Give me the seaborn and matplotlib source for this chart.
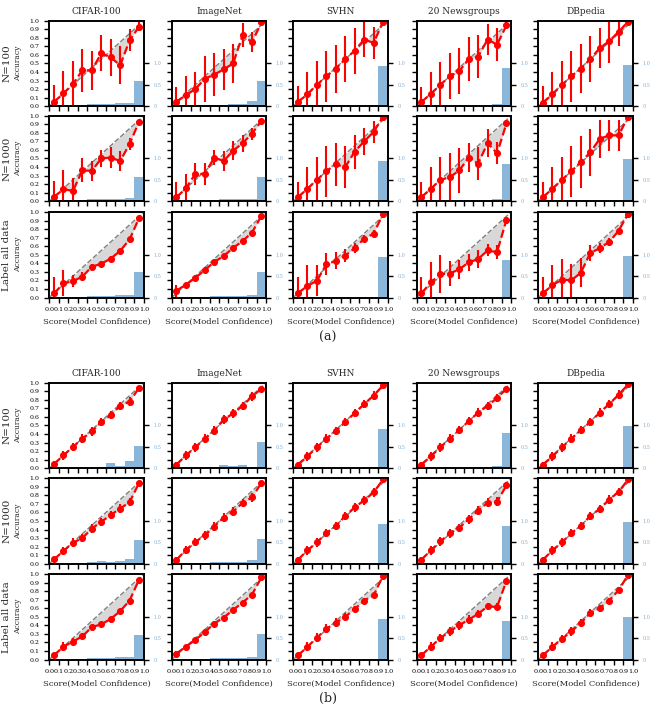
import matplotlib
matplotlib.use("Agg")
import matplotlib.pyplot as plt
import numpy as np
import seaborn as sns

datasets = ["CIFAR-100", "ImageNet", "SVHN", "20 Newsgroups", "DBpedia"]
row_labels = ["N=100", "N=1000", "Label all data"]
centers = [0.05, 0.15, 0.25, 0.35, 0.45, 0.55, 0.65, 0.75, 0.85, 0.95]
tick_labels = ["0.0", "0.1", "0.2", "0.3", "0.4", "0.5", "0.6", "0.7", "0.8", "0.9", "1.0"]

# ---- panel (a) ----
acc_a1 = [
    [0.05, 0.15, 0.26, 0.42, 0.42, 0.62, 0.57, 0.48, 0.77, 0.93],
    [0.05, 0.13, 0.20, 0.32, 0.37, 0.43, 0.50, 0.83, 0.75, 0.98],
    [0.05, 0.14, 0.25, 0.35, 0.44, 0.55, 0.65, 0.78, 0.74, 0.99],
    [0.05, 0.145, 0.25, 0.35, 0.41, 0.55, 0.58, 0.78, 0.72, 0.945],
    [0.04, 0.14, 0.25, 0.35, 0.44, 0.55, 0.68, 0.76, 0.87, 0.99],
]
err_a1 = [
    [0.20, 0.26, 0.27, 0.25, 0.23, 0.21, 0.22, 0.22, 0.13, 0.05],
    [0.18, 0.22, 0.20, 0.27, 0.25, 0.24, 0.23, 0.14, 0.12, 0.02],
    [0.19, 0.26, 0.28, 0.30, 0.28, 0.27, 0.27, 0.20, 0.19, 0.02],
    [0.18, 0.25, 0.27, 0.27, 0.27, 0.26, 0.25, 0.18, 0.19, 0.04],
    [0.20, 0.26, 0.28, 0.30, 0.29, 0.27, 0.23, 0.25, 0.17, 0.02],
]
hist_a1 = [
    [0.0, 0.005, 0.01, 0.02, 0.05, 0.05, 0.06, 0.07, 0.08, 0.60],
    [0.0, 0.0, 0.01, 0.02, 0.03, 0.03, 0.04, 0.04, 0.12, 0.60],
    [0.0, 0.0, 0.0, 0.0, 0.0, 0.0, 0.0, 0.0, 0.02, 0.95],
    [0.0, 0.0, 0.0, 0.0, 0.0, 0.0, 0.0, 0.0, 0.04, 0.90],
    [0.0, 0.0, 0.0, 0.0, 0.0, 0.0, 0.0, 0.0, 0.0, 0.96],
]
acc_a2 = [
    [0.05, 0.14, 0.12, 0.36, 0.355, 0.50, 0.51, 0.47, 0.67, 0.93],
    [0.045, 0.15, 0.32, 0.32, 0.51, 0.47, 0.59, 0.68, 0.79, 0.94],
    [0.047, 0.146, 0.25, 0.35, 0.43, 0.40, 0.58, 0.70, 0.81, 0.99],
    [0.047, 0.146, 0.25, 0.28, 0.36, 0.51, 0.44, 0.68, 0.56, 0.91],
    [0.047, 0.146, 0.25, 0.35, 0.46, 0.57, 0.73, 0.77, 0.77, 0.99],
]
err_a2 = [
    [0.19, 0.23, 0.15, 0.14, 0.12, 0.10, 0.12, 0.12, 0.07, 0.02],
    [0.18, 0.17, 0.13, 0.13, 0.09, 0.12, 0.11, 0.10, 0.07, 0.02],
    [0.18, 0.25, 0.27, 0.30, 0.25, 0.24, 0.20, 0.16, 0.13, 0.02],
    [0.18, 0.25, 0.27, 0.28, 0.26, 0.17, 0.19, 0.16, 0.13, 0.03],
    [0.18, 0.25, 0.27, 0.30, 0.30, 0.28, 0.22, 0.18, 0.18, 0.02],
]
hist_a2 = [
    [0.0, 0.0, 0.01, 0.02, 0.04, 0.05, 0.05, 0.06, 0.07, 0.57],
    [0.0, 0.0, 0.01, 0.02, 0.03, 0.04, 0.04, 0.05, 0.06, 0.56],
    [0.0, 0.0, 0.0, 0.0, 0.0, 0.0, 0.0, 0.0, 0.0, 0.94],
    [0.0, 0.0, 0.0, 0.0, 0.0, 0.01, 0.02, 0.02, 0.04, 0.87],
    [0.0, 0.0, 0.0, 0.0, 0.0, 0.0, 0.0, 0.0, 0.0, 0.98],
]
acc_a3 = [
    [0.047, 0.166, 0.19, 0.245, 0.36, 0.395, 0.455, 0.545, 0.68, 0.93],
    [0.08, 0.15, 0.23, 0.32, 0.415, 0.485, 0.58, 0.66, 0.76, 0.955],
    [0.05, 0.137, 0.196, 0.39, 0.43, 0.49, 0.577, 0.69, 0.745, 0.98],
    [0.05, 0.176, 0.275, 0.28, 0.33, 0.41, 0.45, 0.55, 0.53, 0.91],
    [0.05, 0.145, 0.21, 0.20, 0.29, 0.52, 0.577, 0.65, 0.78, 0.98],
]
err_a3 = [
    [0.19, 0.15, 0.07, 0.05, 0.03, 0.03, 0.03, 0.02, 0.02, 0.01],
    [0.07, 0.01, 0.01, 0.01, 0.01, 0.01, 0.01, 0.01, 0.01, 0.01],
    [0.19, 0.24, 0.18, 0.13, 0.10, 0.08, 0.06, 0.04, 0.04, 0.01],
    [0.19, 0.24, 0.22, 0.15, 0.11, 0.10, 0.10, 0.07, 0.08, 0.02],
    [0.19, 0.24, 0.24, 0.19, 0.17, 0.09, 0.06, 0.05, 0.03, 0.01],
]
hist_a3 = [
    [0.0, 0.0, 0.01, 0.02, 0.03, 0.04, 0.04, 0.05, 0.06, 0.59],
    [0.0, 0.0, 0.01, 0.02, 0.03, 0.03, 0.04, 0.04, 0.06, 0.60],
    [0.0, 0.0, 0.0, 0.0, 0.0, 0.0, 0.0, 0.0, 0.0, 0.94],
    [0.0, 0.0, 0.0, 0.0, 0.0, 0.0, 0.0, 0.0, 0.02, 0.88],
    [0.0, 0.0, 0.0, 0.0, 0.0, 0.0, 0.0, 0.0, 0.0, 0.98],
]

# ---- panel (b) ----
acc_b1 = [
    [0.05, 0.15, 0.25, 0.345, 0.43, 0.54, 0.62, 0.73, 0.78, 0.94],
    [0.04, 0.15, 0.245, 0.345, 0.44, 0.57, 0.64, 0.73, 0.84, 0.93],
    [0.04, 0.14, 0.245, 0.345, 0.435, 0.54, 0.645, 0.75, 0.85, 0.97],
    [0.04, 0.14, 0.245, 0.345, 0.445, 0.55, 0.65, 0.73, 0.82, 0.93],
    [0.04, 0.14, 0.245, 0.345, 0.445, 0.54, 0.65, 0.75, 0.86, 0.98],
]
err_b1 = [
    [0.03, 0.05, 0.05, 0.05, 0.05, 0.05, 0.05, 0.05, 0.05, 0.02],
    [0.03, 0.05, 0.05, 0.05, 0.05, 0.05, 0.05, 0.05, 0.05, 0.02],
    [0.03, 0.05, 0.05, 0.05, 0.05, 0.05, 0.05, 0.05, 0.05, 0.02],
    [0.03, 0.05, 0.05, 0.05, 0.05, 0.05, 0.05, 0.05, 0.05, 0.02],
    [0.03, 0.05, 0.05, 0.05, 0.05, 0.05, 0.05, 0.05, 0.05, 0.02],
]
hist_b1 = [
    [0.0, 0.0, 0.0, 0.02, 0.0, 0.02, 0.11, 0.05, 0.16, 0.52],
    [0.0, 0.0, 0.0, 0.02, 0.02, 0.08, 0.05, 0.07, 0.02, 0.62],
    [0.0, 0.0, 0.0, 0.0, 0.0, 0.0, 0.0, 0.0, 0.02, 0.91],
    [0.0, 0.0, 0.0, 0.0, 0.0, 0.0, 0.0, 0.03, 0.04, 0.82],
    [0.0, 0.0, 0.0, 0.0, 0.0, 0.0, 0.0, 0.0, 0.0, 0.99],
]
acc_b2 = [
    [0.05, 0.15, 0.245, 0.30, 0.41, 0.49, 0.57, 0.645, 0.72, 0.945],
    [0.045, 0.16, 0.255, 0.33, 0.435, 0.54, 0.61, 0.71, 0.775, 0.945],
    [0.047, 0.157, 0.25, 0.36, 0.44, 0.56, 0.66, 0.74, 0.835, 0.985],
    [0.047, 0.157, 0.26, 0.355, 0.42, 0.52, 0.62, 0.715, 0.725, 0.915],
    [0.047, 0.157, 0.25, 0.36, 0.44, 0.56, 0.64, 0.75, 0.84, 0.985],
]
err_b2 = err_b1
hist_b2 = [
    [0.0, 0.0, 0.01, 0.02, 0.03, 0.06, 0.04, 0.06, 0.10, 0.56],
    [0.0, 0.0, 0.01, 0.02, 0.03, 0.05, 0.04, 0.05, 0.08, 0.58],
    [0.0, 0.0, 0.0, 0.0, 0.0, 0.0, 0.0, 0.0, 0.0, 0.92],
    [0.0, 0.0, 0.0, 0.0, 0.0, 0.0, 0.0, 0.0, 0.01, 0.88],
    [0.0, 0.0, 0.0, 0.0, 0.0, 0.0, 0.0, 0.0, 0.0, 0.97],
]
acc_b3 = [
    [0.05, 0.15, 0.21, 0.27, 0.38, 0.41, 0.475, 0.565, 0.69, 0.935],
    [0.07, 0.15, 0.23, 0.32, 0.42, 0.49, 0.58, 0.665, 0.76, 0.96],
    [0.047, 0.15, 0.255, 0.36, 0.43, 0.50, 0.59, 0.69, 0.75, 0.98],
    [0.05, 0.15, 0.25, 0.33, 0.40, 0.465, 0.535, 0.62, 0.615, 0.92],
    [0.05, 0.15, 0.24, 0.33, 0.425, 0.545, 0.60, 0.69, 0.81, 0.99],
]
err_b3 = [
    [0.03, 0.05, 0.04, 0.03, 0.02, 0.02, 0.02, 0.02, 0.02, 0.01],
    [0.03, 0.01, 0.01, 0.01, 0.01, 0.01, 0.01, 0.01, 0.01, 0.01],
    [0.03, 0.05, 0.05, 0.05, 0.05, 0.04, 0.04, 0.03, 0.02, 0.01],
    [0.03, 0.05, 0.05, 0.05, 0.05, 0.05, 0.04, 0.04, 0.04, 0.02],
    [0.03, 0.05, 0.05, 0.05, 0.05, 0.04, 0.04, 0.03, 0.03, 0.01],
]
hist_b3 = [
    [0.0, 0.0, 0.01, 0.02, 0.03, 0.04, 0.04, 0.05, 0.06, 0.58],
    [0.0, 0.0, 0.01, 0.02, 0.03, 0.03, 0.04, 0.04, 0.06, 0.60],
    [0.0, 0.0, 0.0, 0.0, 0.0, 0.0, 0.0, 0.0, 0.0, 0.94],
    [0.0, 0.0, 0.0, 0.0, 0.0, 0.0, 0.0, 0.0, 0.02, 0.89],
    [0.0, 0.0, 0.0, 0.0, 0.0, 0.0, 0.0, 0.0, 0.0, 0.99],
]

panels = {
    "a": [(acc_a1, err_a1, hist_a1), (acc_a2, err_a2, hist_a2), (acc_a3, err_a3, hist_a3)],
    "b": [(acc_b1, err_b1, hist_b1), (acc_b2, err_b2, hist_b2), (acc_b3, err_b3, hist_b3)],
}

sns.set_style("ticks")
plt.rcParams["font.family"] = "DejaVu Serif"

W, H = 656, 705
fig = plt.figure(figsize=(W / 100, H / 100), dpi=100)

col_left = [49.3, 171.7, 293.3, 416.7, 538.3]
ax_w, ax_h = 94.5, 85.5
row_tops = {"a": [20.7, 115.7, 212.0], "b": [382.7, 478.2, 574.0]}
hist_color = "#8ab6da"
tick_blue = "#7faed6"


def draw(ax, acc, err, hist):
    ax2 = ax.twinx()
    ax2.bar(centers, hist, width=0.1, color=hist_color, edgecolor="none")
    ax2.set_ylim(0, 2)
    ax2.set_yticks([0, 0.5, 1.0])
    ax2.set_yticklabels(["0", "0.5", "1.0"], fontsize=3.5, color=tick_blue)
    ax2.tick_params(axis="y", length=3.5, width=1, colors="black", labelcolor=tick_blue)
    ax.set_zorder(ax2.get_zorder() + 1)
    ax.patch.set_visible(False)

    ax.plot([0, 1], [0, 1], linestyle="--", color="gray", linewidth=1)
    ax.fill_between(centers, centers, acc, color="#d4d4d4", alpha=0.9, linewidth=0)
    ax.errorbar(centers, acc, yerr=err, fmt="none", ecolor="red", elinewidth=1.5)
    sns.lineplot(x=centers, y=acc, ax=ax, color="red", linestyle="--", marker="o",
                 markersize=4.3, markeredgecolor="red", linewidth=1.6)
    ax.set_xlim(0, 1)
    ax.set_ylim(0, 1)
    ax.set_xticks(np.linspace(0, 1, 11))
    ax.set_yticks(np.linspace(0, 1, 11))
    ax.tick_params(length=3.5, width=1, colors="black")
    for a in (ax, ax2):
        for sp in a.spines.values():
            sp.set_visible(True)
            sp.set_linewidth(1.2)
            sp.set_color("black")
    return ax2


for p, rows in panels.items():
    for r, (acc_r, err_r, hist_r) in enumerate(rows):
        for c in range(5):
            left = col_left[c] / W
            bottom = 1 - (row_tops[p][r] + ax_h) / H
            ax = fig.add_axes([left, bottom, ax_w / W, ax_h / H])
            draw(ax, acc_r[c], err_r[c], hist_r[c])
            if r == 0:
                ax.set_title(datasets[c], fontsize=6.5, pad=5)
            if c == 0:
                ax.set_yticklabels(tick_labels, fontsize=4.5)
                ax.set_ylabel("Accuracy", fontsize=5.5)
                ax.yaxis.set_label_coords(-0.29, 0.5)
                ax.text(-0.45, 0.5, row_labels[r], transform=ax.transAxes, rotation=90,
                        ha="center", va="center", fontsize=7.5)
            else:
                ax.set_yticklabels([])
            if r == 2:
                ax.set_xticklabels(tick_labels, fontsize=4.6)
                ax.set_xlabel("Score(Model Confidence)", fontsize=6)
            else:
                ax.set_xticklabels([])

fig.text(328 / W, 1 - 337 / H, "(a)", ha="center", va="center", fontsize=9)
fig.text(328 / W, 1 - 698 / H, "(b)", ha="center", va="center", fontsize=9)

fig.savefig("out.png", dpi=100)
